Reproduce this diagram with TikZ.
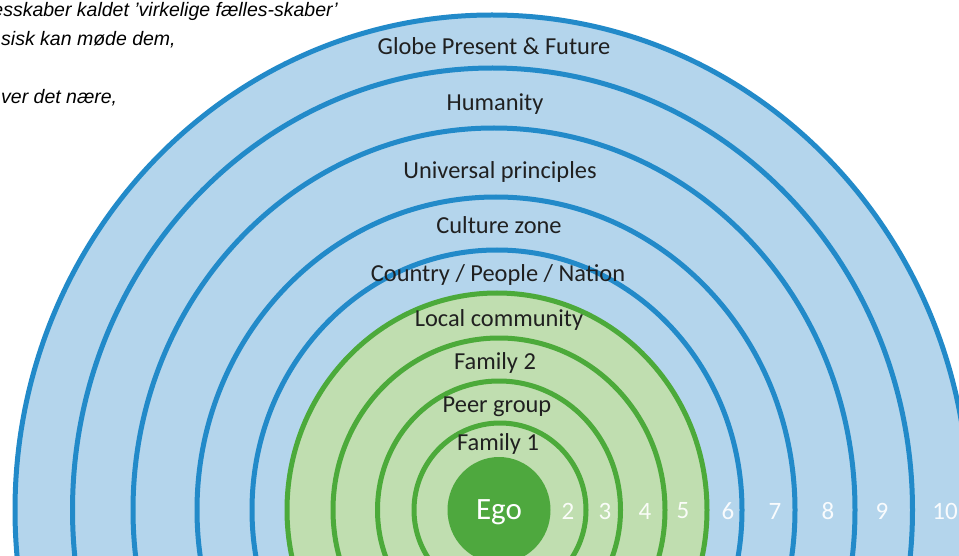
\documentclass[tikz,border=0pt]{standalone}
\usepackage{fontspec}
\setmainfont{Carlito}
\newfontfamily\danishfont{Liberation Sans}
\definecolor{bluefill}{RGB}{180,213,236}
\definecolor{blueline}{RGB}{34,138,201}
\definecolor{greenfill}{RGB}{192,222,176}
\definecolor{greenline}{RGB}{76,170,58}
\definecolor{egofill}{RGB}{78,168,62}
\definecolor{labeltext}{RGB}{32,32,32}
\tikzset{
  bluering/.style={fill=bluefill, draw=blueline, line width=5pt},
  greenring/.style={fill=greenfill, draw=greenline, line width=5pt},
  egodisc/.style={fill=egofill, draw=none},
  ringlabel/.style={text=labeltext, inner sep=0pt, font=\fontsize{24.4}{29}\selectfont},
  numlabel/.style={text=white, opacity=0.92, inner sep=0pt, font=\fontsize{25}{30}\selectfont},
  danishline/.style={inner sep=0pt, text=black, font=\danishfont\itshape\fontsize{19.5}{23}\selectfont}
}
\begin{document}
\begin{tikzpicture}[x=1pt, y=-1pt]
\useasboundingbox (0,0) rectangle (959,556);
\clip (0,0) rectangle (959,556);
\fill[white] (0,0) rectangle (959,556);
% blue rings, outer to inner
\path[bluering] (492,510)   ellipse [x radius=477pt, y radius=495pt];
\path[bluering] (492.5,510) ellipse [x radius=420pt, y radius=442pt];
\path[bluering] (494,510)   ellipse [x radius=361pt, y radius=382pt];
\path[bluering] (496,510)   ellipse [x radius=299pt, y radius=313pt];
\path[bluering] (497,510)   ellipse [x radius=245pt, y radius=260pt];
% green rings
\path[greenring] (497,510) ellipse [x radius=210pt, y radius=217pt];
\path[greenring] (499,510) ellipse [x radius=166pt, y radius=172pt];
\path[greenring] (499,510) ellipse [x radius=121.5pt, y radius=129pt];
\path[greenring] (500,510) ellipse [x radius=86pt, y radius=87pt];
\path[egodisc]   (499,510) ellipse [x radius=51.5pt, y radius=53pt];
% ring labels
\node[ringlabel] (globe)     at (494,46)  {Globe Present \& Future};
\node[ringlabel] (humanity)  at (495,104) {Humanity};
\node[ringlabel] (universal) at (500,172) {Universal principles};
\node[ringlabel] (culture)   at (499,225) {Culture zone};
\node[ringlabel] (country)   at (498,275) {Country / People / Nation};
\node[ringlabel] (local)     at (499,320) {Local community};
\node[ringlabel] (family2)   at (495,363) {Family 2};
\node[ringlabel] (peer)      at (497,407) {Peer group};
\node[ringlabel] (family1)   at (498,444) {Family 1};
\node[text=white, inner sep=0pt, font=\fontsize{31}{36}\selectfont] (ego) at (499,512) {Ego};
% ring numbers
\node[numlabel] (n2)  at (568,511) {2};
\node[numlabel] (n3)  at (605,511) {3};
\node[numlabel] (n4)  at (645,511) {4};
\node[numlabel] (n5)  at (683,511) {5};
\node[numlabel] (n6)  at (728,511) {6};
\node[numlabel] (n7)  at (775,511) {7};
\node[numlabel] (n8)  at (828,511) {8};
\node[numlabel] (n9)  at (882,511) {9};
\node[numlabel] (n10) at (945,511) {10};
% cut-off Danish text, top left (cut off in the reference as well)
\node[danishline, anchor=base east] (dk1) at (338,17) {esskaber kaldet ’virkelige fælles-skaber’};
\node[danishline, anchor=base west] (dk2) at (1,46)   {sisk kan møde dem,};
\node[danishline, anchor=base west] (dk4) at (1,104)  {ver det nære,};
\end{tikzpicture}
\end{document}
